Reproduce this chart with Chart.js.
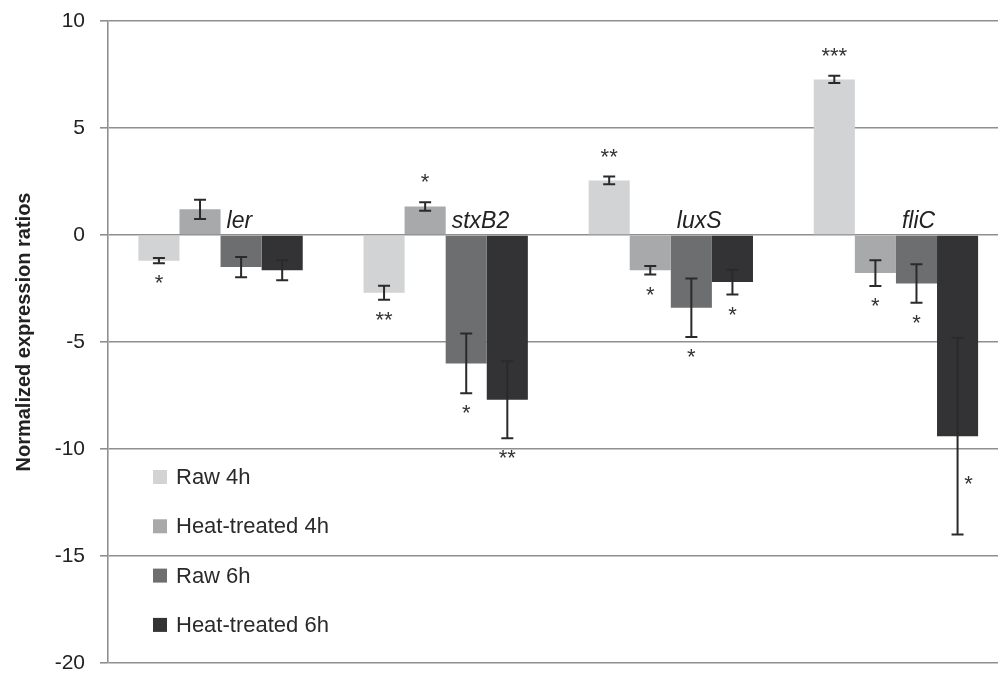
<!DOCTYPE html>
<html>
<head>
<meta charset="utf-8">
<script src="https://cdn.jsdelivr.net/npm/chart.js@4"></script>
<style>
  html, body { margin: 0; padding: 0; background: #fff; overflow: hidden; }
  #wrap { width: 1010px; height: 690px; }
</style>
</head>
<body>
<div id="wrap"><canvas id="chart" width="1010" height="690"></canvas></div>
<script>
// genes (categories)
const genes = ['ler', 'stxB2', 'luxS', 'fliC'];
const yTitle = 'Normalized expression ratios';

// series values
const raw4h = [-1.2, -2.7, 2.55, 7.27];
const raw4hErr = [0.12, 0.33, 0.18, 0.17];
const heat4h = [1.2, 1.33, -1.65, -1.78];
const heat4hErr = [0.45, 0.2, 0.2, 0.6];
const raw6h = [-1.5, -6.0, -3.4, -2.27];
const raw6hErr = [0.47, 1.4, 1.37, 0.9];
const heat6h = [-1.65, -7.7, -2.2, -9.4];
const heat6hErr = [0.47, 1.8, 0.58, 4.6];

// significance marks
const raw4hStars = ['*', '**', '**', '***'];
const heat4hStars = ['', '*', '*', '*'];
const raw6hStars = ['', '*', '*', '*'];
const heat6hStars = ['', '**', '*', '*'];

const FONT = 'Arial, "Liberation Sans", Helvetica, sans-serif';

// error bars, stars, gene names, legend, axis title
const extras = {
    id: 'extras',
    afterDatasetsDraw(chart) {
        const ctx = chart.ctx;
        const x = chart.scales.x, y = chart.scales.y;
        const area = chart.chartArea;

        chart.data.datasets.forEach((ds, di) => {
            const meta = chart.getDatasetMeta(di);
            meta.data.forEach((bar, i) => {
                const v = ds.data[i], e = ds.errors[i];
                const cx = bar.x;
                const yTop = y.getPixelForValue(v + e);
                const yBot = y.getPixelForValue(v - e);
                ctx.save();
                ctx.strokeStyle = '#2a2a2a';
                ctx.lineWidth = 2;
                ctx.beginPath();
                ctx.moveTo(cx, yTop); ctx.lineTo(cx, yBot);
                ctx.moveTo(cx - 6, yTop); ctx.lineTo(cx + 6, yTop);
                ctx.moveTo(cx - 6, yBot); ctx.lineTo(cx + 6, yBot);
                ctx.stroke();

                const s = ds.stars[i];
                if (s) {
                    ctx.fillStyle = '#333';
                    ctx.font = '22px ' + FONT;
                    ctx.textAlign = 'center';
                    ctx.textBaseline = 'middle';
                    let sx = cx, sy;
                    if (e > 3) {
                        sx = cx + 11;
                        sy = y.getPixelForValue(v - e * 0.44);
                    } else if (v >= 0) {
                        sy = yTop - 24;
                    } else {
                        sy = yBot + 16;
                    }
                    ctx.fillText(s, sx, sy + 5);
                }
                ctx.restore();
            });
        });

        // gene names
        ctx.save();
        ctx.fillStyle = '#222';
        ctx.font = 'italic 23px ' + FONT;
        ctx.textAlign = 'left';
        ctx.textBaseline = 'middle';
        const y0 = y.getPixelForValue(0);
        genes.forEach((g, i) => {
            ctx.fillText(g, x.getPixelForValue(i) + 6, y0 - 13);
        });
        ctx.restore();

        // legend inside the plot
        ctx.save();
        ctx.font = '22px ' + FONT;
        ctx.textBaseline = 'middle';
        ctx.textAlign = 'left';
        chart.data.datasets.forEach((ds, di) => {
            const ly = area.top + 456 + di * 49.3;
            const lx = area.left + 45;
            ctx.fillStyle = ds.backgroundColor;
            ctx.fillRect(lx, ly - 7, 14, 14);
            ctx.fillStyle = '#2a2a2a';
            ctx.fillText(ds.label, lx + 23, ly + 1);
        });
        ctx.restore();

        // y axis title
        ctx.save();
        ctx.translate(24, 332);
        ctx.rotate(-Math.PI / 2);
        ctx.fillStyle = '#222';
        ctx.font = 'bold 20px ' + FONT;
        ctx.textAlign = 'center';
        ctx.textBaseline = 'middle';
        ctx.fillText(yTitle, 0, 0);
        ctx.restore();
    }
};

new Chart(document.getElementById('chart'), {
    type: 'bar',
    data: {
        labels: genes,
        datasets: [
            { label: 'Raw 4h', data: raw4h, errors: raw4hErr, stars: raw4hStars, backgroundColor: '#d1d3d4' },
            { label: 'Heat-treated 4h', data: heat4h, errors: heat4hErr, stars: heat4hStars, backgroundColor: '#a7a9ab' },
            { label: 'Raw 6h', data: raw6h, errors: raw6hErr, stars: raw6hStars, backgroundColor: '#6d6e70' },
            { label: 'Heat-treated 6h', data: heat6h, errors: heat6hErr, stars: heat6hStars, backgroundColor: '#333234' }
        ]
    },
    options: {
        responsive: false,
        animation: false,
        layout: { padding: { top: 21, bottom: 27, left: 0, right: 1.5 } },
        datasets: { bar: { categoryPercentage: 0.73, barPercentage: 1.0, borderWidth: 0 } },
        scales: {
            x: { display: false },
            y: {
                min: -20,
                max: 10,
                afterFit: s => { s.width = 108; s.paddingTop = 0; s.paddingBottom = 0; },
                ticks: { stepSize: 5, color: '#222', font: { size: 21, family: FONT }, padding: 15 },
                grid: { color: '#8f8f8f', lineWidth: 1.6, tickLength: 8 },
                border: { display: true, color: '#8f8f8f', width: 1.6 }
            }
        },
        plugins: {
            legend: { display: false },
            tooltip: { enabled: false }
        }
    },
    plugins: [extras]
});
</script>
</body>
</html>
